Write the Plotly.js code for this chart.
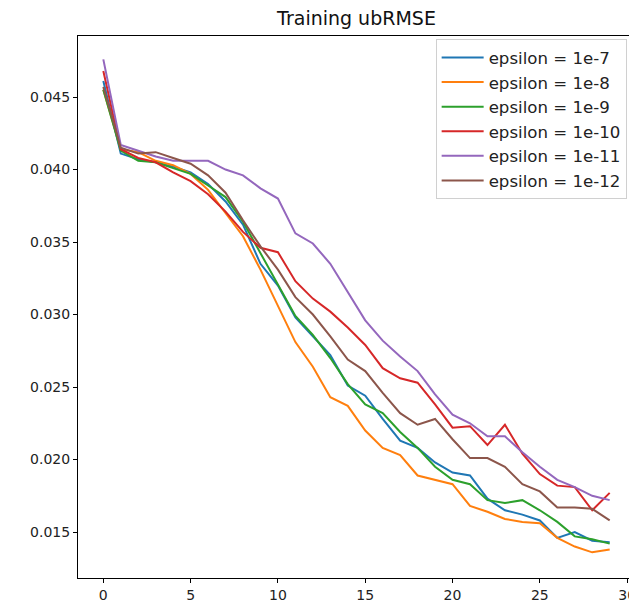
<!DOCTYPE html>
<html>
<head>
<meta charset="utf-8">
<script src="https://cdn.plot.ly/plotly-3.0.1.min.js"></script>
<style>
html, body { margin: 0; padding: 0; overflow: hidden; background: #fff; }
#chart { width: 640px; height: 607px; }
</style>
</head>
<body>
<div id="chart"></div>
<script>
const epochs = Array.from({length: 30}, (_, i) => i);
const seriesNames = ["epsilon = 1e-7", "epsilon = 1e-8", "epsilon = 1e-9", "epsilon = 1e-10", "epsilon = 1e-11", "epsilon = 1e-12"];
const eps1e7 = [0.0461,0.0411,0.0407,0.0405,0.0402,0.0398,0.0390,0.0378,0.0362,0.0335,0.0320,0.0298,0.0285,0.0272,0.0251,0.0244,0.0228,0.0213,0.0208,0.0198,0.0191,0.0189,0.0173,0.0165,0.0162,0.0158,0.0146,0.0150,0.0144,0.0143];
const eps1e8 = [0.0455,0.0414,0.0412,0.0406,0.0403,0.0397,0.0386,0.0370,0.0354,0.0331,0.0306,0.0281,0.0264,0.0243,0.0237,0.0220,0.0208,0.0203,0.0189,0.0186,0.0183,0.0168,0.0164,0.0159,0.0157,0.0156,0.0146,0.0140,0.0136,0.0138];
const eps1e9 = [0.0455,0.0413,0.0406,0.0405,0.0401,0.0397,0.0389,0.0381,0.0364,0.0342,0.0321,0.0299,0.0286,0.0270,0.0252,0.0238,0.0232,0.0219,0.0208,0.0195,0.0186,0.0183,0.0172,0.0170,0.0172,0.0165,0.0157,0.0147,0.0145,0.0142];
const eps1e10 = [0.0468,0.0414,0.0408,0.0405,0.0398,0.0392,0.0383,0.0371,0.0357,0.0346,0.0343,0.0323,0.0311,0.0302,0.0291,0.0279,0.0263,0.0256,0.0253,0.0238,0.0222,0.0223,0.0210,0.0224,0.0204,0.0190,0.0182,0.0181,0.0165,0.0177];
const eps1e11 = [0.0476,0.0417,0.0413,0.0409,0.0406,0.0406,0.0406,0.0400,0.0396,0.0387,0.0380,0.0356,0.0349,0.0335,0.0315,0.0296,0.0282,0.0271,0.0261,0.0245,0.0231,0.0225,0.0216,0.0216,0.0205,0.0195,0.0186,0.0181,0.0175,0.0172];
const eps1e12 = [0.0457,0.0415,0.0411,0.0412,0.0408,0.0404,0.0396,0.0384,0.0365,0.0347,0.0331,0.0312,0.0300,0.0285,0.0269,0.0261,0.0246,0.0232,0.0224,0.0228,0.0214,0.0201,0.0201,0.0195,0.0183,0.0178,0.0167,0.0167,0.0166,0.0158];
const colors = ["#1f77b4", "#ff7f0e", "#2ca02c", "#d62728", "#9467bd", "#8c564b"];
const allSeries = [eps1e7, eps1e8, eps1e9, eps1e10, eps1e11, eps1e12];

const traces = allSeries.map((ys, k) => ({
  x: epochs, y: ys, type: "scatter", mode: "lines", name: seriesNames[k],
  line: {color: colors[k], width: 2}
}));

const font = {family: "DejaVu Sans, sans-serif", size: 14, color: "#222"};
const layout = {
  width: 640, height: 607,
  margin: {l: 78, r: 5, t: 36, b: 29, pad: 0},
  paper_bgcolor: "#fff", plot_bgcolor: "#fff",
  font: font,
  title: {text: "Training ubRMSE", font: {family: "DejaVu Sans, sans-serif", size: 19, color: "#111"}, x: 0.5, xref: "paper", xanchor: "center", y: 0.97, yref: "container", yanchor: "middle"},
  showlegend: true,
  legend: {
    x: 0.985, y: 0.994, xanchor: "right", yanchor: "top",
    bgcolor: "rgba(255,255,255,0.8)", bordercolor: "#d0d0d0", borderwidth: 1,
    font: {family: "DejaVu Sans, sans-serif", size: 16.6, color: "#222"},
    itemwidth: 42, tracegroupgap: 0
  },
  xaxis: {
    range: [-1.45, 30.45], tickvals: [0, 5, 10, 15, 20, 25, 30], ticktext: ["0","5","10","15","20","25","30"],
    ticks: "outside", ticklen: 4, tickwidth: 1, tickcolor: "#000",
    showline: true, linecolor: "#000", linewidth: 1, mirror: true,
    showgrid: false, zeroline: false, tickfont: font
  },
  yaxis: {
    range: [0.01183, 0.04921], tickvals: [0.015, 0.020, 0.025, 0.030, 0.035, 0.040, 0.045],
    ticktext: ["0.015","0.020","0.025","0.030","0.035","0.040","0.045"],
    ticks: "outside", ticklen: 4, tickwidth: 1, tickcolor: "#000",
    showline: true, linecolor: "#000", linewidth: 1, mirror: true,
    showgrid: false, zeroline: false, tickfont: font
  }
};
Plotly.newPlot("chart", traces, layout, {displayModeBar: false, staticPlot: true});
</script>
</body>
</html>
